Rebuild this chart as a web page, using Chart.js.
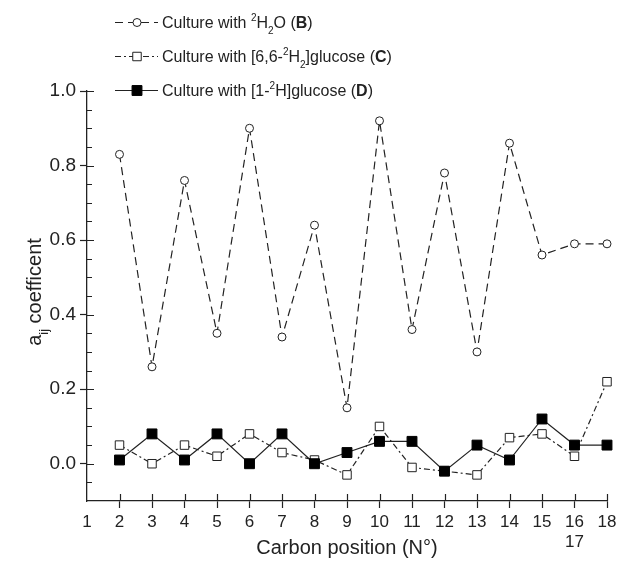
<!DOCTYPE html>
<html>
<head>
<meta charset="utf-8">
<script src="https://cdn.jsdelivr.net/npm/chart.js@4.4.0/dist/chart.umd.min.js"></script>
<style>
  html, body { margin: 0; padding: 0; background: #fff; }
</style>
</head>
<body>
<canvas id="chart" width="621" height="563"></canvas>
<script>
// carbon positions on the x axis (16 and 17 share one position)
const positions = ["1", "2", "3", "4", "5", "6", "7", "8", "9", "10", "11", "12", "13", "14", "15", ["16", "17"], "18"];

// a_ij coefficients
const waterB     = [null, 0.83, 0.26, 0.76, 0.35, 0.90, 0.34, 0.64, 0.15, 0.92, 0.36, 0.78, 0.30, 0.86, 0.56, 0.59, 0.59];
const glucose66C = [null, 0.05, 0.00, 0.05, 0.02, 0.08, 0.03, 0.01, -0.03, 0.10, -0.01, -0.02, -0.03, 0.07, 0.08, 0.02, 0.22];
const glucose1D  = [null, 0.01, 0.08, 0.01, 0.08, 0.00, 0.08, 0.00, 0.03, 0.06, 0.06, -0.02, 0.05, 0.01, 0.12, 0.05, 0.05];

// legend texts, split for superscript / subscript / bold parts
const legendB = [["Culture with ", ""], ["2", "sup"], ["H", ""], ["2", "sub"], ["O (", ""], ["B", "b"], [")", ""]];
const legendC = [["Culture with [6,6-", ""], ["2", "sup"], ["H", ""], ["2", "sub"], ["]glucose (", ""], ["C", "b"], [")", ""]];
const legendD = [["Culture with [1-", ""], ["2", "sup"], ["H]glucose (", ""], ["D", "b"], [")", ""]];

const FONT = '"Liberation Sans", Arial, Helvetica, sans-serif';
const INK = "#222";

function isMajor(v) {
  return v > -0.001 && Math.abs(v * 5 - Math.round(v * 5)) < 1e-6;
}

function drawRich(ctx, x, y, parts, size) {
  ctx.textBaseline = "alphabetic";
  ctx.textAlign = "left";
  for (const [t, s] of parts) {
    let dy = 0, f = size + "px " + FONT;
    if (s === "sup") { f = Math.round(size * 0.65) + "px " + FONT; dy = -size * 0.42; }
    if (s === "sub") { f = Math.round(size * 0.65) + "px " + FONT; dy = size * 0.35; }
    if (s === "b") f = "bold " + size + "px " + FONT;
    ctx.font = f;
    ctx.fillText(t, x, y + dy);
    x += ctx.measureText(t).width;
  }
}

const decorations = {
  id: "decorations",
  afterDraw(chart) {
    const ctx = chart.ctx;
    const xs = chart.scales.x, ys = chart.scales.y;
    const area = chart.chartArea;
    ctx.save();
    ctx.strokeStyle = INK;
    ctx.fillStyle = INK;
    ctx.lineWidth = 1.2;

    // inward tick marks
    ctx.beginPath();
    ys.ticks.forEach(t => {
      if (t.value < -0.099) return;
      const py = Math.round(ys.getPixelForValue(t.value)) + 0.5;
      const len = isMajor(t.value) ? 7 : 5;
      ctx.moveTo(area.left, py);
      ctx.lineTo(area.left + len, py);
    });
    for (let i = 1; i < positions.length; i++) {
      const px = Math.round(xs.getPixelForValue(i)) + 0.5;
      ctx.moveTo(px, area.bottom);
      ctx.lineTo(px, area.bottom - 7);
    }
    ctx.stroke();

    // y axis title with subscript
    ctx.save();
    ctx.translate(41, 292);
    ctx.rotate(-Math.PI / 2);
    const parts = [["a", ""], ["ij", "sub"], [" coefficent", ""]];
    let w = 0;
    for (const [t, s] of parts) {
      ctx.font = (s ? 13 : 20) + "px " + FONT;
      w += ctx.measureText(t).width;
    }
    drawRich(ctx, -w / 2, 0, parts, 20);
    ctx.restore();

    // legend
    const rows = [[0, legendB, 22], [1, legendC, 56], [2, legendD, 90]];
    rows.forEach(([di, parts, y]) => {
      const ds = chart.data.datasets[di];
      ctx.save();
      ctx.lineWidth = ds.borderWidth;
      ctx.strokeStyle = ds.borderColor;
      ctx.setLineDash(ds.borderDash || []);
      ctx.beginPath();
      ctx.moveTo(115, y + 0.5);
      ctx.lineTo(158, y + 0.5);
      ctx.stroke();
      ctx.setLineDash([]);
      ctx.fillStyle = ds.pointBackgroundColor;
      ctx.strokeStyle = ds.pointBorderColor;
      ctx.lineWidth = ds.pointBorderWidth || 1;
      ctx.beginPath();
      if (ds.pointStyle === "circle") {
        ctx.arc(137, y + 0.5, ds.pointRadius, 0, Math.PI * 2);
      } else {
        const s = ds.pointRadius * Math.SQRT1_2;
        ctx.rect(137 - s, y + 0.5 - s, 2 * s, 2 * s);
      }
      ctx.fill();
      ctx.stroke();
      ctx.restore();
      ctx.fillStyle = INK;
      drawRich(ctx, 162, y + 6, parts, 16);
    });
    ctx.restore();
  }
};

new Chart(document.getElementById("chart"), {
  type: "line",
  data: {
    labels: positions,
    datasets: [
      {
        label: "B",
        data: waterB,
        borderColor: INK,
        borderWidth: 1.2,
        borderDash: [8, 5],
        pointStyle: "circle",
        pointRadius: 4,
        pointBackgroundColor: "#fff",
        pointBorderColor: INK,
        pointBorderWidth: 1,
        clip: false,
      },
      {
        label: "C",
        data: glucose66C,
        borderColor: INK,
        borderWidth: 1.2,
        borderDash: [6, 3, 2, 3],
        pointStyle: "rect",
        pointRadius: 6,
        pointBackgroundColor: "#fff",
        pointBorderColor: INK,
        pointBorderWidth: 1,
        clip: false,
      },
      {
        label: "D",
        data: glucose1D,
        borderColor: INK,
        borderWidth: 1.2,
        pointStyle: "rect",
        pointRadius: 7,
        pointBackgroundColor: "#000",
        pointBorderColor: "#000",
        pointBorderWidth: 1,
        clip: false,
        order: -1,
      },
    ],
  },
  options: {
    responsive: false,
    animation: false,
    layout: { padding: { top: 91, right: 14, bottom: 0, left: 0 } },
    plugins: {
      legend: { display: false },
      tooltip: { enabled: false },
    },
    scales: {
      x: {
        type: "category",
        offset: false,
        afterFit(scale) { scale.height = 62; },
        grid: {
          drawOnChartArea: false,
          tickLength: 7,
          tickWidth: 1.2,
          tickColor: (c) => (c.index === 0 ? "rgba(0,0,0,0)" : INK),
        },
        border: { display: true, color: INK, width: 1.3 },
        ticks: {
          autoSkip: false,
          maxRotation: 0,
          padding: 4,
          color: INK,
          font: { family: FONT, size: 17, lineHeight: 1.2 },
        },
        title: {
          display: true,
          text: "Carbon position (N°)",
          color: INK,
          font: { family: FONT, size: 20, lineHeight: 1.2 },
          padding: { top: 0, bottom: 3 },
        },
      },
      y: {
        min: -0.1,
        max: 1.0,
        afterFit(scale) { scale.width = 87; },
        grid: {
          drawOnChartArea: false,
          tickLength: 7,
          tickWidth: 1.2,
          tickColor: (c) => (c.tick && isMajor(c.tick.value) ? INK : "rgba(0,0,0,0)"),
        },
        border: { display: true, color: INK, width: 1.3 },
        ticks: {
          stepSize: 0.05,
          autoSkip: false,
          padding: 4,
          color: INK,
          font: { family: FONT, size: 19 },
          callback: (v) => (isMajor(v) ? Number(v).toFixed(1) : ""),
        },
      },
    },
  },
  plugins: [decorations],
});
</script>
</body>
</html>
